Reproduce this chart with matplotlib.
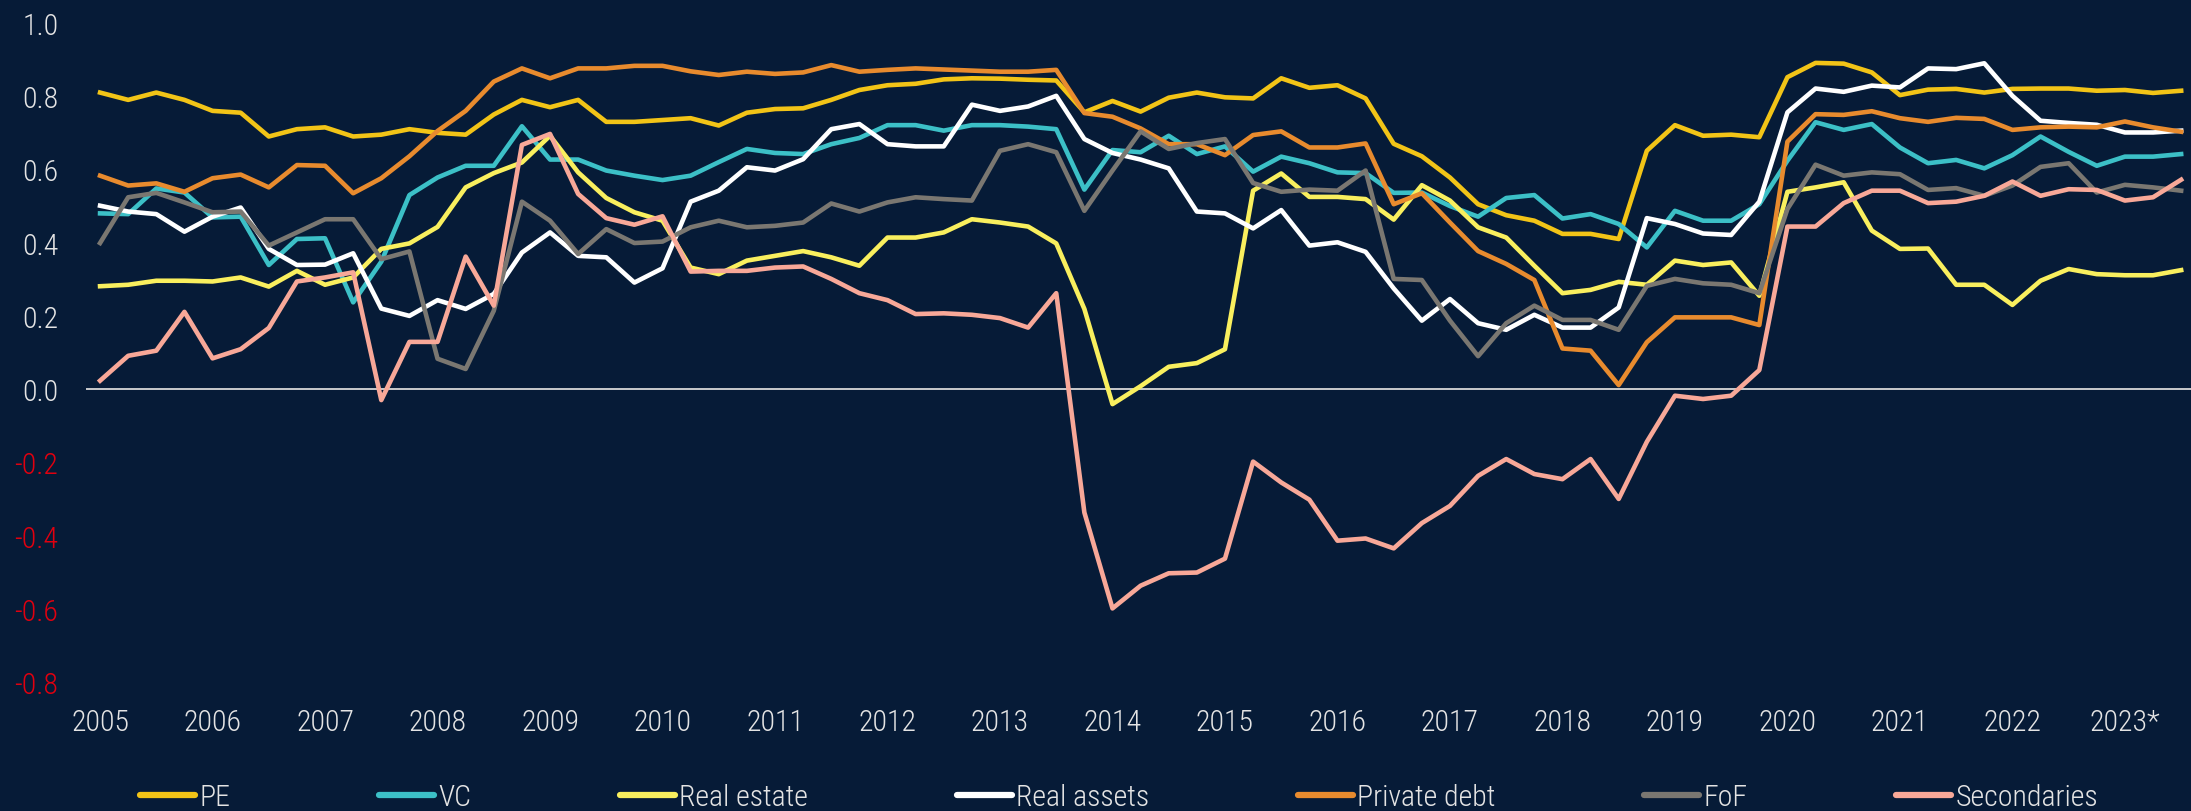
import os
import matplotlib
matplotlib.use('Agg')
import matplotlib.pyplot as plt
from matplotlib import font_manager as fm
import numpy as np

# quarterly values, 2005Q1 .. 2023Q3
quarters = np.arange(75)
year_labels = [str(y) for y in range(2005, 2023)] + ['2023*']
y_ticks = [-0.8, -0.6, -0.4, -0.2, 0.0, 0.2, 0.4, 0.6, 0.8, 1.0]

pe = [0.81, 0.79, 0.81, 0.79, 0.76, 0.755, 0.69, 0.71, 0.715, 0.69, 0.695, 0.71, 0.70,
      0.695, 0.75, 0.79, 0.77, 0.79, 0.73, 0.73, 0.735, 0.74, 0.72, 0.755, 0.765, 0.767,
      0.79, 0.817, 0.83, 0.834, 0.846, 0.849, 0.848, 0.845, 0.843, 0.756, 0.787, 0.758,
      0.796, 0.81, 0.797, 0.794, 0.849, 0.823, 0.83, 0.794, 0.67, 0.636, 0.578, 0.505,
      0.475, 0.46, 0.424, 0.424, 0.41, 0.651, 0.721, 0.692, 0.695, 0.688, 0.852, 0.891, 0.889,
      0.865, 0.803, 0.818, 0.82, 0.81, 0.82, 0.821, 0.821, 0.815, 0.817, 0.809, 0.815]
vc = [0.48, 0.478, 0.548, 0.537, 0.469, 0.471, 0.339, 0.41, 0.412, 0.237, 0.348, 0.53, 0.578,
      0.61, 0.61, 0.718, 0.627, 0.627, 0.597, 0.583, 0.571, 0.583, 0.62, 0.656, 0.645, 0.642,
      0.669, 0.686, 0.721, 0.721, 0.706, 0.721, 0.721, 0.717, 0.71, 0.545, 0.653, 0.647,
      0.692, 0.642, 0.663, 0.594, 0.635, 0.617, 0.592, 0.59, 0.536, 0.537, 0.50, 0.471,
      0.522, 0.53, 0.466, 0.478, 0.451, 0.387, 0.487, 0.46, 0.46, 0.505, 0.624, 0.729, 0.708,
      0.724, 0.66, 0.617, 0.626, 0.603, 0.639, 0.69, 0.648, 0.61, 0.635, 0.635, 0.642]
real_estate = [0.281, 0.285, 0.296, 0.296, 0.294, 0.305, 0.28, 0.323, 0.285, 0.305, 0.383, 0.398, 0.443,
               0.551, 0.59, 0.619, 0.692, 0.592, 0.522, 0.483, 0.46, 0.332, 0.314, 0.351, 0.364, 0.377,
               0.36, 0.337, 0.414, 0.414, 0.428, 0.464, 0.455, 0.444, 0.398, 0.219, -0.041, 0.008,
               0.061, 0.071, 0.109, 0.542, 0.589, 0.525, 0.525, 0.519, 0.463, 0.557, 0.515, 0.442,
               0.414, 0.337, 0.262, 0.271, 0.293, 0.285, 0.351, 0.339, 0.346, 0.255, 0.539, 0.551, 0.565,
               0.433, 0.383, 0.384, 0.285, 0.285, 0.23, 0.296, 0.328, 0.314, 0.311, 0.311, 0.325]
real_assets = [0.501, 0.485, 0.478, 0.43, 0.471, 0.496, 0.383, 0.339, 0.34, 0.371, 0.22, 0.20, 0.243,
               0.219, 0.26, 0.373, 0.428, 0.364, 0.36, 0.291, 0.33, 0.512, 0.542, 0.606, 0.597, 0.628,
               0.71, 0.724, 0.669, 0.663, 0.663, 0.777, 0.76, 0.772, 0.801, 0.683, 0.645, 0.627,
               0.603, 0.485, 0.48, 0.439, 0.489, 0.392, 0.401, 0.375, 0.275, 0.187, 0.246, 0.18,
               0.162, 0.203, 0.168, 0.168, 0.223, 0.467, 0.451, 0.425, 0.421, 0.512, 0.756, 0.821, 0.812,
               0.829, 0.824, 0.876, 0.874, 0.89, 0.801, 0.733, 0.727, 0.722, 0.701, 0.701, 0.706]
private_debt = [0.583, 0.556, 0.562, 0.539, 0.576, 0.586, 0.551, 0.612, 0.61, 0.535, 0.576, 0.636, 0.705,
                0.76, 0.84, 0.876, 0.849, 0.876, 0.876, 0.883, 0.883, 0.868, 0.858, 0.867, 0.861, 0.865,
                0.885, 0.867, 0.872, 0.876, 0.873, 0.87, 0.867, 0.867, 0.872, 0.754, 0.744, 0.712,
                0.669, 0.669, 0.639, 0.694, 0.704, 0.66, 0.66, 0.671, 0.505, 0.535, 0.455, 0.377,
                0.342, 0.298, 0.111, 0.105, 0.011, 0.128, 0.196, 0.196, 0.196, 0.175, 0.676, 0.751, 0.749,
                0.759, 0.74, 0.73, 0.741, 0.738, 0.708, 0.715, 0.717, 0.715, 0.731, 0.715, 0.703]
fof = [0.399, 0.524, 0.536, 0.51, 0.483, 0.485, 0.392, 0.428, 0.464, 0.464, 0.355, 0.376, 0.083,
       0.055, 0.214, 0.512, 0.46, 0.369, 0.437, 0.399, 0.403, 0.442, 0.46, 0.442, 0.446, 0.455,
       0.507, 0.485, 0.51, 0.524, 0.519, 0.515, 0.651, 0.669, 0.647, 0.487, 0.597, 0.704,
       0.656, 0.672, 0.683, 0.563, 0.539, 0.545, 0.542, 0.597, 0.301, 0.298, 0.187, 0.09,
       0.18, 0.228, 0.189, 0.189, 0.162, 0.282, 0.301, 0.289, 0.285, 0.262, 0.492, 0.613, 0.583,
       0.592, 0.587, 0.544, 0.549, 0.528, 0.556, 0.607, 0.617, 0.537, 0.558, 0.551, 0.542]
secondaries = [0.023, 0.091, 0.105, 0.211, 0.084, 0.109, 0.167, 0.294, 0.305, 0.319, -0.03, 0.129, 0.129,
               0.362, 0.228, 0.667, 0.697, 0.533, 0.467, 0.449, 0.472, 0.321, 0.323, 0.323, 0.332, 0.335,
               0.301, 0.262, 0.243, 0.205, 0.207, 0.203, 0.194, 0.168, 0.262, -0.337, -0.599, -0.537,
               -0.503, -0.501, -0.463, -0.198, -0.255, -0.302, -0.414, -0.408, -0.435, -0.366, -0.319, -0.237,
               -0.191, -0.232, -0.246, -0.191, -0.30, -0.144, -0.018, -0.027, -0.018, 0.052, 0.444, 0.444, 0.508,
               0.542, 0.542, 0.508, 0.512, 0.528, 0.567, 0.528, 0.546, 0.544, 0.515, 0.524, 0.572]

series = [('PE', pe, '#F2C417'),
          ('VC', vc, '#3CC0C7'),
          ('Real estate', real_estate, '#F9EF5E'),
          ('Real assets', real_assets, '#FFFFFF'),
          ('Private debt', private_debt, '#E88B2E'),
          ('FoF', fof, '#7A7771'),
          ('Secondaries', secondaries, '#F8A898')]

bg = '#061B37'
txt = '#E4E4E4'


# look for a narrow (ideally light) sans font file, else fall back to DejaVu Sans
def font_score(f):
    p = os.path.basename(f.fname).lower()
    if not any(k in f.name for k in ['Roboto', 'Noto Sans', 'Open Sans', 'Liberation Sans', 'DejaVu Sans', 'Lato', 'Inter']):
        return -1
    if any(k in p for k in ['bold', 'italic', 'oblique', 'mono', 'serif', 'black', 'medium', 'thin', 'cjk', 'extralight']):
        return -1
    if 'extracondensed' in p or 'ultracondensed' in p:
        return -1
    s = 0
    if 'condensed' in p or 'narrow' in p or 'cond' in p:
        s += 4
        if 'semicondensed' in p:
            s -= 1
    if 'light' in p:
        s += 2
    if f.name.startswith('Roboto'):
        s += 0.5
    return s


cands = sorted(fm.fontManager.ttflist, key=font_score, reverse=True)
best = cands[0] if cands and font_score(cands[0]) >= 4 else None
if best is not None:
    fp = fm.FontProperties(fname=best.fname)
    fsize = 21.5
else:
    fp = fm.FontProperties(family='DejaVu Sans')
    fsize = 17
em = fsize / 72 * 100  # px

fig = plt.figure(figsize=(21.91, 8.12), dpi=100, facecolor=bg)
ax = fig.add_axes([86 / 2191, (812 - 683) / 812, 1 - 86 / 2191, (683 - 24) / 812])
ax.set_facecolor(bg)

for name, vals, c in series:
    ax.plot(quarters, vals, color=c, lw=3.3, label=name, zorder=3)
ax.axhline(0, color='#D8D8D8', lw=1.3, zorder=2)

ax.set_xlim(-0.5, 74.35)
ax.set_ylim(-0.8, 1.0)
for s in ax.spines.values():
    s.set_visible(False)

ax.set_xticks(quarters[::4])
ax.set_xticklabels(year_labels, fontproperties=fp, fontsize=fsize, color=txt)
ax.set_yticks(y_ticks)
ax.set_yticklabels(['%.1f' % v for v in y_ticks], fontproperties=fp, fontsize=fsize, color=txt)
ax.tick_params(axis='x', length=0, pad=19)
ax.tick_params(axis='y', length=0, pad=20)
for lab, v in zip(ax.get_yticklabels(), y_ticks):
    if v < 0:
        lab.set_color('#E0000F')

lp = fp.copy()
lp.set_size(fsize)
leg = fig.legend(loc='center left', bbox_to_anchor=(140 / 2191, 1 - 798 / 812), ncol=7,
                 frameon=False, prop=lp, labelcolor=txt, handlelength=55 / em,
                 handletextpad=4 / em, columnspacing=149 / em, borderpad=0, borderaxespad=0)
for line in leg.get_lines():
    line.set_linewidth(4.5)
    line.set_solid_capstyle('round')

plt.savefig('out.png', dpi=100, facecolor=bg)
